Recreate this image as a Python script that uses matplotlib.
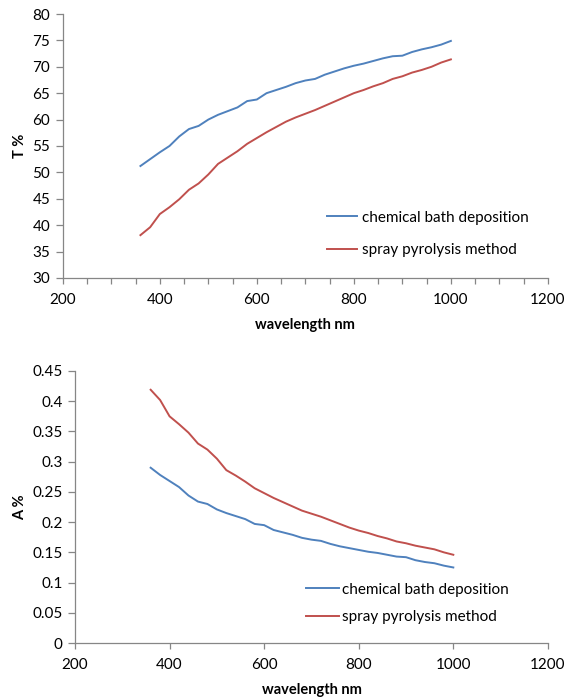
import numpy as np
import matplotlib.pyplot as plt
from matplotlib.ticker import MultipleLocator, NullLocator

plt.rcParams['font.family'] = ['Lato', 'DejaVu Sans']

# wavelength (nm), sampled every 20 nm
wavelength = list(range(360, 1001, 20))

# transmittance T %
t_cbd = [51.2, 52.5, 53.8, 55.0, 56.8, 58.2, 58.8, 60.0, 60.9, 61.6, 62.3,
         63.5, 63.8, 65.0, 65.6, 66.2, 66.9, 67.4, 67.7, 68.5, 69.1, 69.7,
         70.2, 70.6, 71.1, 71.6, 72.0, 72.1, 72.8, 73.3, 73.7, 74.2, 74.9]
t_spray = [38.1, 39.6, 42.1, 43.4, 44.9, 46.7, 47.9, 49.6, 51.6, 52.8, 54.0,
           55.4, 56.5, 57.6, 58.6, 59.6, 60.4, 61.1, 61.8, 62.6, 63.4, 64.2,
           65.0, 65.6, 66.3, 66.9, 67.7, 68.2, 68.9, 69.4, 70.0, 70.8, 71.4]

# absorbance A %
a_cbd = [0.290, 0.278, 0.268, 0.258, 0.244, 0.234, 0.230, 0.221, 0.215, 0.210,
         0.205, 0.197, 0.195, 0.187, 0.183, 0.179, 0.174, 0.171, 0.169, 0.164,
         0.160, 0.157, 0.154, 0.151, 0.149, 0.146, 0.143, 0.142, 0.137, 0.134,
         0.132, 0.128, 0.125]
a_spray = [0.419, 0.402, 0.375, 0.362, 0.348, 0.330, 0.320, 0.305, 0.286, 0.277,
           0.267, 0.256, 0.248, 0.240, 0.233, 0.226, 0.219, 0.214, 0.209, 0.203,
           0.197, 0.191, 0.186, 0.182, 0.177, 0.173, 0.168, 0.165, 0.161, 0.158,
           0.155, 0.150, 0.146]

labels = ['chemical bath deposition', 'spray pyrolysis method']
BLUE = '#4F81BD'
RED = '#C0504D'
AXIS = '#868686'

fig = plt.figure(figsize=(5.66, 7.0), dpi=100)
ax1 = fig.add_axes([0.111, 0.603, 0.857, 0.377])
ax2 = fig.add_axes([0.1325, 0.0814, 0.8355, 0.3886])


def style(ax, minor):
    for s in ('top', 'right'):
        ax.spines[s].set_visible(False)
    for s in ('left', 'bottom'):
        ax.spines[s].set_color(AXIS)
        ax.spines[s].set_linewidth(0.9)
    ax.set_xlim(200, 1200)
    ax.xaxis.set_major_locator(MultipleLocator(200))
    if minor:
        ax.xaxis.set_minor_locator(MultipleLocator(50))
    else:
        ax.xaxis.set_minor_locator(NullLocator())
    ax.tick_params(axis='both', which='both', color=AXIS, labelsize=11,
                   labelcolor='#000000', width=0.9)
    ax.tick_params(axis='x', which='both', length=4, direction='out', pad=7)
    ax.tick_params(axis='y', length=5, direction='out', pad=4)
    ax.set_xlabel('wavelength nm', fontsize=10.5, fontweight='bold', labelpad=8)


# top: transmittance
ax1.plot(wavelength, t_cbd, color=BLUE, lw=1.4, label=labels[0])
ax1.plot(wavelength, t_spray, color=RED, lw=1.4, label=labels[1])
style(ax1, minor=True)
ax1.set_ylim(30, 80)
ax1.yaxis.set_major_locator(MultipleLocator(5))
ax1.set_ylabel('T %', fontsize=10.5, fontweight='bold', labelpad=4)
ax1.legend(loc='center left', bbox_to_anchor=(0.544, 0.167), frameon=False,
           fontsize=11, handlelength=2.0, handletextpad=0.3, labelspacing=1.2,
           borderpad=0, borderaxespad=0)

# bottom: absorbance
ax2.plot(wavelength, a_cbd, color=BLUE, lw=1.4, label=labels[0])
ax2.plot(wavelength, a_spray, color=RED, lw=1.4, label=labels[1])
style(ax2, minor=False)
ax2.set_ylim(0, 0.45)
ax2.yaxis.set_major_locator(MultipleLocator(0.05))
ax2.yaxis.set_major_formatter(plt.FuncFormatter(lambda v, p: f'{v:.2f}'.rstrip('0').rstrip('.') if v else '0'))
ax2.set_ylabel('A %', fontsize=10.5, fontweight='bold', labelpad=4)
ax2.legend(loc='center left', bbox_to_anchor=(0.488, 0.145), frameon=False,
           fontsize=11, handlelength=2.2, handletextpad=0.15, labelspacing=0.9,
           borderpad=0, borderaxespad=0)

fig.savefig('out.png', dpi=100)
